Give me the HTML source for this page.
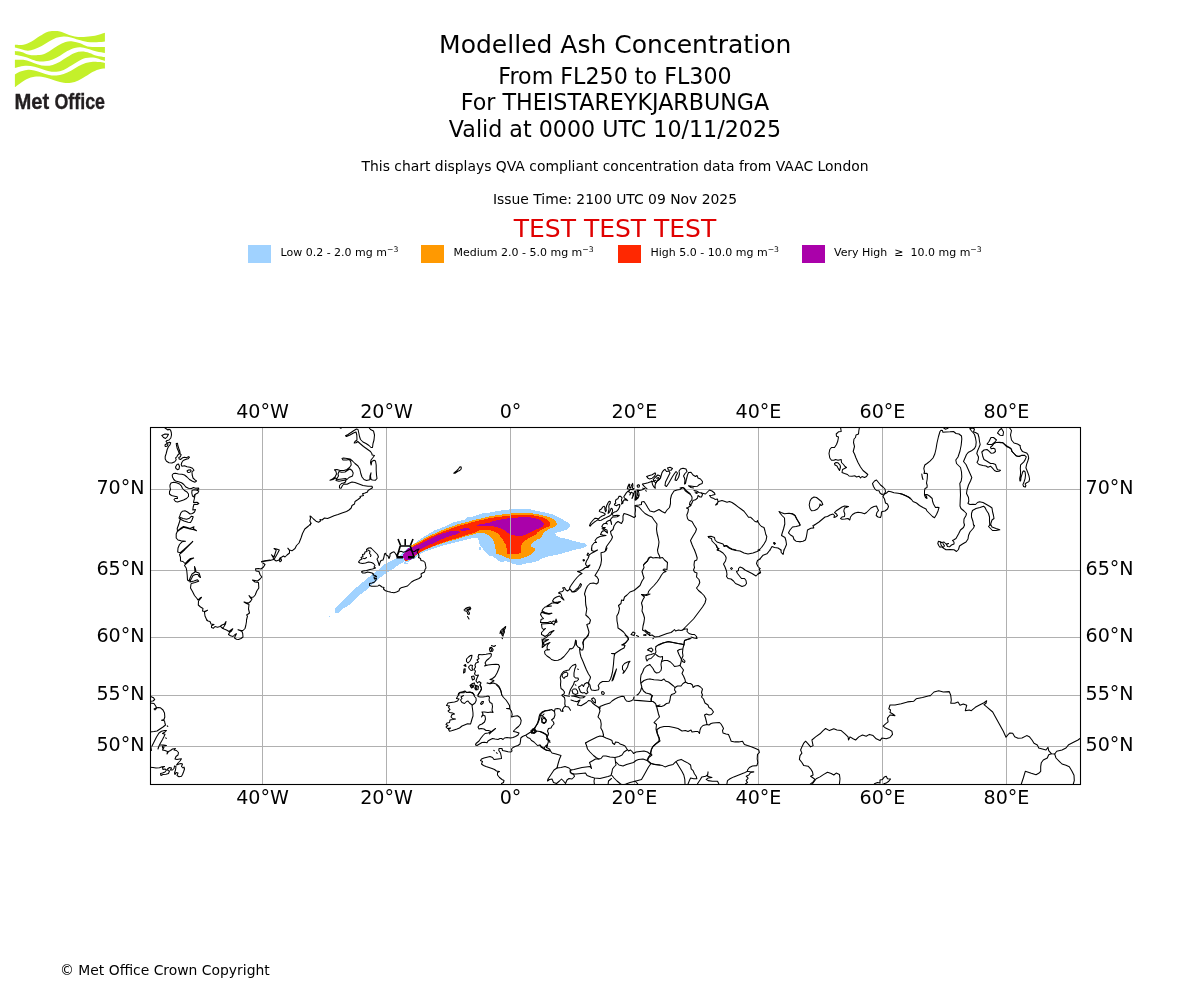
<!DOCTYPE html>
<html lang="en"><head><meta charset="utf-8"><title>Modelled Ash Concentration</title>
<style>html,body{margin:0;padding:0;background:#fff}body{width:1200px;height:1000px;overflow:hidden}svg{display:block;will-change:transform;opacity:.999}text{font-family:"DejaVu Sans","Liberation Sans",sans-serif;fill:#000}</style></head><body>
<svg width="1200" height="1000" viewBox="0 0 1200 1000">
<rect width="1200" height="1000" fill="#fff"/>
<g fill="#c4f02a" stroke="none">
<path d="M14.90 44.71C16.31 44.71 20.55 45.24 23.33 44.71C26.11 44.17 28.83 42.95 31.58 41.50C34.33 40.05 37.24 37.60 39.83 36.00C42.43 34.40 44.88 32.72 47.17 31.88C49.46 31.03 51.44 31.03 53.58 30.96C55.72 30.88 57.71 30.88 60.00 31.42C62.29 31.95 64.89 33.33 67.33 34.17C69.78 35.01 71.92 36.00 74.67 36.46C77.42 36.92 80.78 36.99 83.83 36.92C86.89 36.84 90.25 36.46 93.00 36.00C95.75 35.54 98.35 34.70 100.33 34.17C102.32 33.63 104.15 33.02 104.92 32.79L104.92 41.50C103.54 41.62 99.57 42.16 96.67 42.23C93.76 42.31 90.56 42.39 87.50 41.96C84.44 41.53 81.08 40.43 78.33 39.67C75.58 38.90 73.44 37.91 71.00 37.38C68.56 36.84 66.11 36.38 63.67 36.46C61.22 36.53 58.78 36.99 56.33 37.83C53.89 38.67 51.44 40.12 49.00 41.50C46.56 42.88 44.11 44.78 41.67 46.08C39.22 47.38 36.62 48.53 34.33 49.29C32.04 50.06 30.06 50.67 27.92 50.67C25.78 50.67 23.67 49.83 21.50 49.29C19.33 48.76 16.00 47.76 14.90 47.46Z"/>
<path d="M14.90 51.12C16.00 51.28 19.18 51.43 21.50 52.04C23.82 52.65 26.39 54.26 28.83 54.79C31.28 55.33 33.72 55.33 36.17 55.25C38.61 55.17 41.06 55.17 43.50 54.33C45.94 53.49 48.39 51.66 50.83 50.21C53.28 48.76 55.72 47.00 58.17 45.62C60.61 44.25 63.06 42.65 65.50 41.96C67.94 41.27 70.39 41.27 72.83 41.50C75.28 41.73 77.72 42.49 80.17 43.33C82.61 44.17 85.06 45.93 87.50 46.54C89.94 47.15 91.93 46.92 94.83 47.00C97.74 47.08 103.24 47.00 104.92 47.00L104.92 52.96C103.54 52.73 99.26 52.19 96.67 51.58C94.07 50.97 91.78 49.98 89.33 49.29C86.89 48.60 84.44 47.69 82.00 47.46C79.56 47.23 77.11 47.31 74.67 47.92C72.22 48.53 69.78 49.83 67.33 51.12C64.89 52.42 62.44 54.33 60.00 55.71C57.56 57.08 55.11 58.46 52.67 59.38C50.22 60.29 47.78 60.90 45.33 61.21C42.89 61.51 40.44 61.59 38.00 61.21C35.56 60.83 33.11 59.68 30.67 58.92C28.22 58.15 25.96 57.31 23.33 56.62C20.71 55.94 16.31 55.10 14.90 54.79Z"/>
<path d="M14.90 59.83C16.31 59.83 20.71 59.53 23.33 59.83C25.96 60.14 28.22 60.90 30.67 61.67C33.11 62.43 35.56 63.73 38.00 64.42C40.44 65.10 42.89 65.72 45.33 65.79C47.78 65.87 50.22 65.56 52.67 64.88C55.11 64.19 57.56 62.97 60.00 61.67C62.44 60.37 64.89 58.53 67.33 57.08C69.78 55.63 72.22 53.88 74.67 52.96C77.11 52.04 79.56 51.58 82.00 51.58C84.44 51.58 86.89 52.27 89.33 52.96C91.78 53.65 94.07 55.02 96.67 55.71C99.26 56.40 103.54 56.85 104.92 57.08L104.92 60.75C104.15 60.52 102.32 59.91 100.33 59.38C98.35 58.84 95.44 57.77 93.00 57.54C90.56 57.31 88.11 57.39 85.67 58.00C83.22 58.61 80.78 59.91 78.33 61.21C75.89 62.51 73.44 64.34 71.00 65.79C68.56 67.24 66.11 68.92 63.67 69.92C61.22 70.91 58.78 71.52 56.33 71.75C53.89 71.98 51.44 71.75 49.00 71.29C46.56 70.83 44.11 69.76 41.67 69.00C39.22 68.24 36.78 67.24 34.33 66.71C31.89 66.17 29.44 65.79 27.00 65.79C24.56 65.79 21.68 66.33 19.67 66.71C17.65 67.09 15.69 67.85 14.90 68.08Z"/>
<path d="M14.90 74.50C15.69 74.04 17.65 72.51 19.67 71.75C21.68 70.99 24.56 70.15 27.00 69.92C29.44 69.69 31.89 69.92 34.33 70.38C36.78 70.83 39.22 71.90 41.67 72.67C44.11 73.43 46.56 74.50 49.00 74.96C51.44 75.42 53.89 75.57 56.33 75.42C58.78 75.26 61.22 74.81 63.67 74.04C66.11 73.28 68.56 72.13 71.00 70.83C73.44 69.53 75.89 67.55 78.33 66.25C80.78 64.95 83.22 63.81 85.67 63.04C88.11 62.28 90.56 61.82 93.00 61.67C95.44 61.51 98.35 61.90 100.33 62.12C102.32 62.35 104.15 62.89 104.92 63.04L104.92 68.54C104.15 68.62 102.32 68.47 100.33 69.00C98.35 69.53 95.44 70.53 93.00 71.75C90.56 72.97 88.11 74.88 85.67 76.33C83.22 77.78 80.78 79.39 78.33 80.46C75.89 81.53 73.44 82.37 71.00 82.75C68.56 83.13 66.11 83.06 63.67 82.75C61.22 82.44 58.78 81.60 56.33 80.92C53.89 80.23 51.44 79.31 49.00 78.62C46.56 77.94 44.11 77.10 41.67 76.79C39.22 76.49 36.78 76.41 34.33 76.79C31.89 77.17 29.44 77.94 27.00 79.08C24.56 80.23 21.68 82.29 19.67 83.67C17.65 85.04 15.69 86.72 14.90 87.33Z"/>
</g>
<g font-weight="bold" font-size="21.6" style="font-family:'Liberation Sans',sans-serif;fill:#231f20;stroke:#231f20;stroke-width:0.35px"><text x="14.4" y="108.8" textLength="34.8" lengthAdjust="spacingAndGlyphs" style="font-family:'Liberation Sans',sans-serif;fill:#231f20">Met</text><text x="54.4" y="108.8" textLength="50.6" lengthAdjust="spacingAndGlyphs" style="font-family:'Liberation Sans',sans-serif;fill:#231f20">Office</text></g>
<g text-anchor="middle">
<text x="615.2" y="53" font-size="25.03">Modelled Ash Concentration</text>
<text x="615" y="84" font-size="22.2">From FL250 to FL300</text>
<text x="615" y="110" font-size="22.2">For THEISTAREYKJARBUNGA</text>
<text x="615" y="137" font-size="22.2">Valid at 0000 UTC 10/11/2025</text>
<text x="615" y="171" font-size="13.9">This chart displays QVA compliant concentration data from VAAC London</text>
<text x="615" y="204" font-size="13.9">Issue Time: 2100 UTC 09 Nov 2025</text>
<text x="615" y="237" font-size="25" style="fill:#e00000">TEST TEST TEST</text>
</g>
<rect x="248" y="245" width="23" height="18" fill="#a0d2ff"/>
<text x="280.5" y="256" font-size="11" xml:space="preserve">Low 0.2 - 2.0 mg m<tspan font-size="7.7" dy="-4.2">−3</tspan></text>
<rect x="421" y="245" width="23" height="18" fill="#ff9900"/>
<text x="453.5" y="256" font-size="11" xml:space="preserve">Medium 2.0 - 5.0 mg m<tspan font-size="7.7" dy="-4.2">−3</tspan></text>
<rect x="618" y="245" width="23" height="18" fill="#ff2800"/>
<text x="650.5" y="256" font-size="11" xml:space="preserve">High 5.0 - 10.0 mg m<tspan font-size="7.7" dy="-4.2">−3</tspan></text>
<rect x="802" y="245" width="23" height="18" fill="#aa00aa"/>
<text x="834" y="256" font-size="11" xml:space="preserve">Very High  ≥  10.0 mg m<tspan font-size="7.7" dy="-4.2">−3</tspan></text>
<clipPath id="mapclip"><rect x="150.5" y="427.5" width="930" height="357"/></clipPath>
<g clip-path="url(#mapclip)">
<g stroke="none" shape-rendering="crispEdges">
<path fill="#a0d2ff" d="M335.0 608.5 L338.0 606.0 L341.0 602.0 L345.0 598.5 L349.0 595.0 L353.0 590.5 L357.0 587.0 L361.0 583.5 L365.0 580.5 L369.0 577.0 L373.0 574.0 L377.0 571.0 L381.0 567.5 L385.0 564.0 L389.0 562.0 L393.0 560.0 L397.0 558.0 L401.0 554.5 L405.0 550.5 L408.0 548.0 L413.1 544.4 L417.5 541.2 L423.8 536.9 L430.0 533.1 L435.0 530.0 L442.5 527.5 L448.8 524.4 L455.0 521.9 L465.0 519.4 L467.5 517.5 L475.0 516.2 L480.0 513.8 L490.0 512.5 L500.0 510.6 L510.0 509.4 L520.0 509.0 L530.0 509.4 L537.5 511.0 L545.0 512.5 L552.5 514.4 L557.5 516.9 L562.5 519.4 L566.9 521.9 L569.8 524.4 L569.8 526.9 L567.5 529.4 L562.5 531.2 L557.5 532.5 L555.0 533.5 L556.2 535.6 L560.0 537.5 L566.2 538.8 L572.5 540.6 L580.0 542.5 L586.2 543.8 L586.9 546.2 L582.5 548.1 L576.2 549.4 L570.0 551.2 L565.0 552.5 L558.8 554.4 L552.5 555.6 L546.2 556.9 L541.2 558.8 L537.5 561.2 L532.5 562.5 L527.5 563.1 L523.8 564.4 L517.5 564.8 L512.5 564.0 L508.8 561.9 L505.0 561.2 L502.5 562.5 L499.4 561.2 L496.2 558.8 L492.5 556.2 L488.8 555.6 L486.2 552.5 L483.1 550.0 L482.2 546.9 L480.0 546.2 L479.0 542.5 L478.1 538.1 L472.5 538.1 L465.0 540.0 L457.5 541.9 L450.0 543.8 L442.5 545.6 L435.0 548.1 L427.5 550.6 L420.0 553.8 L416.2 557.5 L411.2 560.0 L407.5 562.5 L403.8 561.2 L408.0 563.5 L404.0 563.5 L404.0 561.5 L401.0 563.5 L397.0 566.0 L393.0 569.0 L389.0 571.5 L385.0 574.0 L381.0 577.0 L377.0 580.0 L373.0 584.0 L369.0 587.0 L365.0 591.0 L361.0 594.0 L357.0 597.5 L353.0 601.0 L349.0 605.0 L345.0 607.5 L341.0 610.0 L338.0 613.0 L335.0 612.5Z"/>
<path fill="#a0d2ff" d="M479.2 546.9 L480.8 546.9 L480.8 549.6 L479.2 549.6Z"/>
<path fill="#a0d2ff" d="M328.5 616.0 L329.7 616.0 L329.7 617.2 L328.5 617.2Z"/>
<path fill="#ff9900" d="M404.4 560.0 L406.9 552.5 L411.2 545.6 L417.5 542.5 L423.8 538.8 L430.0 535.6 L436.2 532.8 L442.5 530.0 L450.0 527.2 L457.5 524.4 L466.2 522.2 L475.0 519.8 L482.5 518.1 L490.0 516.2 L500.0 514.8 L510.0 513.5 L520.0 512.8 L530.0 513.1 L537.5 514.0 L543.8 515.6 L550.0 517.5 L553.8 519.4 L556.2 521.9 L556.9 525.0 L555.0 526.9 L551.2 528.1 L547.5 530.0 L543.8 532.5 L542.2 535.6 L541.2 538.1 L537.5 539.4 L533.8 541.9 L531.2 543.8 L531.0 546.9 L535.6 548.1 L535.0 550.0 L532.5 552.5 L530.0 555.0 L526.2 556.9 L522.5 558.1 L518.1 559.4 L512.5 558.8 L508.8 558.5 L505.0 556.9 L501.2 555.0 L496.2 553.8 L495.6 550.0 L495.0 545.6 L493.1 540.0 L490.0 536.2 L486.2 533.8 L481.2 532.8 L476.2 533.5 L471.2 535.0 L463.8 536.9 L456.2 539.4 L448.8 541.2 L441.2 543.8 L433.8 546.2 L426.2 549.4 L420.0 552.5 L415.0 556.2 L411.2 558.8 L406.9 561.2Z"/>
<path fill="#ff2800" d="M403.8 558.8 L406.9 551.9 L411.9 546.9 L417.5 543.8 L423.8 540.2 L430.0 537.1 L436.2 534.4 L442.5 531.9 L450.0 529.0 L457.5 526.2 L466.2 524.0 L475.0 521.5 L482.5 519.8 L490.0 518.1 L498.8 516.9 L510.0 515.6 L520.0 514.8 L530.0 515.0 L537.5 516.0 L543.1 517.5 L547.5 519.8 L550.0 522.5 L550.6 525.0 L548.8 526.5 L545.0 528.1 L541.2 530.0 L537.5 532.5 L535.0 535.0 L531.2 536.9 L527.5 538.8 L525.0 540.6 L522.5 543.1 L521.0 546.2 L520.6 550.0 L521.0 553.1 L517.5 553.8 L512.5 553.5 L507.5 553.5 L506.9 550.0 L506.2 545.6 L503.8 541.2 L501.2 537.5 L498.1 533.8 L493.8 531.2 L488.8 529.8 L483.8 529.8 L478.8 530.6 L475.0 532.5 L467.5 534.8 L460.0 537.2 L452.5 539.4 L445.0 541.9 L437.5 544.4 L430.0 547.5 L422.5 550.6 L417.5 553.8 L412.5 557.5 L408.8 560.2 L405.6 560.9Z"/>
<path fill="#aa00aa" d="M403.1 555.0 L405.0 551.9 L408.8 548.1 L412.5 546.9 L417.5 545.0 L423.8 541.9 L430.0 538.8 L436.2 536.0 L442.5 533.5 L447.5 531.9 L453.8 530.6 L458.8 530.6 L460.0 532.5 L456.2 534.4 L451.2 535.6 L446.2 537.5 L440.0 540.0 L433.8 543.1 L427.5 545.6 L421.2 548.8 L417.5 552.5 L413.8 556.9 L410.0 560.0 L405.6 560.6 L403.1 558.1Z"/>
<path fill="#aa00aa" d="M460.0 529.4 L463.8 528.1 L468.8 528.1 L470.0 529.4 L466.2 530.6 L461.2 530.9Z"/>
<path fill="#aa00aa" d="M476.2 525.0 L482.5 523.8 L488.8 523.1 L492.5 521.2 L498.8 519.8 L505.0 518.8 L510.0 518.1 L517.5 517.5 L525.0 516.9 L531.2 517.5 L537.5 518.8 L541.9 521.2 L543.8 523.8 L543.1 526.2 L540.0 528.1 L536.2 529.4 L532.5 531.2 L528.8 533.1 L525.0 535.0 L521.2 536.2 L517.5 536.2 L513.8 535.2 L510.0 534.4 L507.5 532.5 L505.0 530.6 L501.2 528.5 L496.2 526.9 L491.2 526.0 L485.0 526.0 L480.0 526.0 L476.9 525.6Z"/>
</g>
<g stroke="#b0b0b0" stroke-width="1" fill="none">
<path d="M262.5 427.5V784.5"/>
<path d="M386.5 427.5V784.5"/>
<path d="M510.5 427.5V784.5"/>
<path d="M634.5 427.5V784.5"/>
<path d="M758.5 427.5V784.5"/>
<path d="M882.5 427.5V784.5"/>
<path d="M1006.5 427.5V784.5"/>
<path d="M150.5 746.5H1080.5"/>
<path d="M150.5 695.5H1080.5"/>
<path d="M150.5 637.5H1080.5"/>
<path d="M150.5 570.5H1080.5"/>
<path d="M150.5 489.5H1080.5"/>
</g>
<g stroke="#000" stroke-width="1.06" fill="none" stroke-linejoin="round" stroke-linecap="round">
<path d="M165 428 L166.5 429 L168 430 L169 429.2 L170.5 430 L171.3 432.5 L171.5 435 L170.8 438 L169 440 L166.5 440.8 L166 441.5 L167.5 443.2 L169.5 442.2 L170.7 442.8 L170 444.8 L168.5 446.5 L167.2 449.5 L166.2 453.5 L165.2 456.5 L165.2 459 L166.5 461.2 L169 462.7 L172 463 L174.8 461.8 L176.2 459.8 L175.6 457.8 L176.8 456.8 L177.8 455 L179.2 453.8 L178.5 451.2 L177.2 448.5 L176.5 445.5 L176.2 443.5 L177.5 443.3 L177.8 445.5 L178.8 448.5 L179.8 451.2 L180.2 454 L181.2 454.6 L180.3 456.8 L178.8 457.5 L179.2 459 L180.5 459.5 L182.5 457.8 L184.5 457.2 L186.5 457.7 L188.5 456.6 L189.5 457.2 L188 458.8 L185.5 459.5 L183.2 460.5 L181.8 462.5 L181.2 464.8 L182 466.2 L184.5 465.8 L187 466.8 L190 467.2 L192.5 468.2 L194 470.2 L193 471 L192 472 L192.2 475 L193 478 L195 479.8 L196.5 481 L195 482.2 L192.5 481.2 L189.5 479.5 L187 477 L184.5 475 L182 474.2 L178.5 474 L175.5 473.3 L173.5 473.5 L172.2 475 L172.5 477 L173.8 479.5 L175.5 481 L178.5 481.8 L181.5 482.8 L183.8 484.5 L185.8 487 L188.5 488.2 L191.5 488.5 L193.5 487.5 L195.5 488.2 L198.5 488 L198.8 489 L197 490"/>
<path d="M161.8 435.5 L165 434 L168.5 434.2 L167 437 L165.5 438.5 L163.5 437.5Z"/>
<path d="M165 445 L167 443.5 L168 444.5 L167 446.2 L165.2 446.5Z"/>
<path d="M175.5 467 L177 464.5 L178.5 464 L179.5 466.5 L179 469 L177.5 469.7 L176 468.5Z"/>
<path d="M187 471 L188.5 470 L190.5 469.8 L191.2 471 L190 472.2 L188 472.5Z"/>
<path d="M170 485 L171 483 L173.5 482.2 L176.5 482.8 L179.5 484 L181.5 486.2 L182.5 488.5 L184.5 490.5 L187 492 L188.5 494 L188.5 496.5 L186.5 498.5 L183.5 500 L180.5 501 L177.5 502 L175.5 501.5 L174 499.5 L175 498.5 L177.5 498.5 L177.2 496.8 L174.5 496.2 L171.5 495.5 L169.5 494 L169.5 491.5 L170.5 489.5 L170 487Z"/>
<path d="M192 490.5 L194 489.8 L196.5 490 L198.8 491 L197.8 493 L195.8 494 L194.5 495 L194 497 L192.5 496 L191.8 493Z"/>
<path d="M195 495 L194.5 498 L193.8 501 L193.5 502.5 L197 502.2 L198.8 503.5 L197 504.5 L194 504.2 L193.2 507 L192.8 510 L195.5 509.5 L194.5 512 L192.5 513.5 L190 514 L187.5 512 L185 510.8 L182.5 511.2 L180.8 513 L179.8 516 L179 518 L181 519.5 L184 521 L188 522.2 L190.5 522.5 L192 520 L193.2 516.8 L191.5 516.2 L189.5 518.2 L186.5 519.2 L183 518.5 L180.5 517.5 L179.8 521 L178.5 525"/>
<path d="M178.5 525 L177.2 528.5 L177.5 531 L176.2 534 L176.2 538 L178 540 L181 540.8 L185.5 541.2 L182 541.8 L179.5 544.5 L178 548 L177.7 552 L180 552.8 L184 549.5 L188 545.8 L192.8 541.3 L192 542.5 L188 546.5 L184.5 550 L180.5 553.5 L179.5 554.5 L180.5 557.5 L180.5 561 L183 561.5 L185 563.5 L187.5 561 L190.5 558.5 L193.7 558 L191 559.2 L188 562 L185.2 564.5 L184.5 565.5 L186.2 568 L186.8 571 L187.2 575 L187.5 580 L189 581 L190.5 577 L192 574 L195 572 L194.5 566.5 L195.5 569 L196 572 L199 573 L200.5 577.5 L199 576.5 L198 574.5 L195.5 574.5 L193 575.5 L191.5 578.5 L190 581.2 L190 582 L194 581 L197.5 579.8 L198.7 581.2 L195 582.5 L191.5 583.5 L191 584 L190.5 588 L192.5 591.5 L194.5 595.5 L197 598.5 L198 600 L200 598 L201.5 597.3 L199 600.5 L198.5 601 L198.3 605 L200.5 607 L203 608.5 L202.5 611 L204.5 611.5 L207.5 610.3 L204.5 612 L204.5 612.5 L205 616 L206.8 620"/>
<path d="M177.5 531 L180 528.8 L183.5 526.5 L186.5 527.2 L190 528.5 L194 526.8 L193.2 528.5 L196.5 530.8 L194 529.8 L190 529 L186.5 528 L183.5 527.2 L180.5 529.2 L178 531.2"/>
<path d="M270 560 L265 560.8 L261.5 561.5"/>
<path d="M263 563 L265 564.5 L263.5 567 L261 569 L258.5 568.5 L255.5 568.8 L256 571 L259 571.5 L260 574.5 L261.8 577 L260 579 L257.5 581 L255 580.5 L252.5 580 L255 582 L258.5 582.5 L258.8 588 L256.8 591 L255.2 595 L253.5 597 L251 597.5 L249 595.5 L250.5 598 L252 599 L250.5 601.5 L248.5 603 L246 602.5 L244 602 L246.5 603.5 L249 604.5 L248.5 609 L249.5 613 L247.5 614.5 L246.5 615 L247.5 616 L246.5 620"/>
<path d="M206.8 620 L208 621 L210 621.5 L211 624 L214 624.5 L211.5 625.8 L211.5 627.5 L213.5 628.2 L215 626.5 L217.5 627.2 L220 626.5 L222 625 L224.5 624 L226 621.5 L225.5 624 L224 626.5 L222.5 628.5 L221 627 L224 629 L226.5 630 L229 631.5 L231 630 L232.8 628.7 L231.5 631 L229.5 632.5 L228.5 634.5 L230.5 635.8 L233 636.5 L235 634.5 L236.5 633.8 L235 636.5 L234.5 638 L236.5 639.2 L238.5 639.5 L241 638.5 L243 637 L242.7 633.5 L242 631.5 L240 630.5 L238 629.7 L241 630.5 L243 630.5 L245 628.5 L245.8 625.5 L246.5 621.5 L246.5 620"/>
<path d="M150 696.2 L153.5 697.8 L154.7 699.5 L153 701 L150 701.2"/>
<path d="M150 703 L154 703.5 L156 706.5 L156.5 708.5 L155 710 L154 709 L155.5 708.2 L158 707.5 L160.5 707.8 L163 710 L164.5 713 L164.8 717 L164 719.5 L161.5 720.2 L164.5 720.8 L165 723.5 L165.5 725 L163 727 L160 729 L157 731 L154 731.5 L150 732"/>
<path d="M152 746 L154 742 L156.5 737 L159 733 L161.5 731.2 L164.5 730.5 L166.5 730.5 L165 732 L162.5 733.5 L165 734.2 L164 736.5 L162.5 739.5 L160.5 743 L159 746 L158 749 L158.5 747.2"/>
<path d="M160.5 745 L163.5 745 L166.5 745.5 L162.5 746.2 L162.5 748 L164 747.5 L162.5 750 L165 750.5 L167.5 751.5 L167 754 L168.5 751.5 L170.5 750.5 L172.5 749 L175.5 748.5 L174 750 L176.5 750.5 L178.5 752.5 L178 755 L176 756.5 L175 759 L177 759.5 L179.5 759 L181.5 758.8 L180 761 L178 763 L176.5 765 L179 764 L181 763.5 L182.5 764 L181.5 766.5 L183 768 L184 767 L184.5 769 L183.5 772 L182.5 774.5 L181.5 776.2 L179 776.8 L177 775.5 L178 773 L176.2 772.5 L175 774.5 L174.5 773 L175.5 770 L176 766.5 L174.5 766 L174 768.5 L172.5 770 L170.5 770 L171.5 768 L169.5 767.5 L167.5 769 L168 770.5 L169.5 771 L168.5 773.5 L166 774.2 L163 774.5 L161 775.5 L160.5 773.5 L162.5 773 L165 772 L166.5 770 L165 769 L163 769.5 L162.5 767.5 L164.5 766.5 L162 766.8 L159.5 767.8 L156 768 L153 767.5 L150 767.2"/>
<path d="M167.2 725.8 L167.8 726.4"/>
<path d="M165.7 737.8 L166.3 738.4"/>
<path d="M150.8 746.2 L151.4 750.5"/>
<path d="M368.5 427 L370.5 429.5 L373.5 431 L374.5 435 L374 440 L373 443.5 L372.5 447.5 L371 447.5 L369 445.5 L366 443.5 L363 442 L360.5 439.5 L359.5 436.5 L358.8 433 L358 429.5 L356.5 429 L354 430.5 L351 432.5 L348 434.5 L345.5 435.8 L346.5 436.5 L350 435 L353.5 433 L356 432 L356.8 435 L357 440 L355 441.5 L354.2 443 L356 442.8 L357.8 441.5 L360 443.5 L363.5 446.5 L367 449 L370.5 451.5 L371.8 453.5 L372.2 455 L374.5 455.5 L373 457.5 L371 460 L370.5 462.5 L371.2 465 L371.8 461.5 L374 460.2 L375.5 461 L376.2 465 L376.2 470 L376.5 475 L377 478.5 L375.5 480.2 L372.5 480 L371 479.5 L370.5 476 L371 472.8 L370 476 L369.8 479.8 L366.5 480.5 L364 479.5 L362 477 L360.8 473.5 L359.8 469 L358 466 L355 463.5 L352.5 461 L350 459 L347 458.5 L343.5 458 L342 458.5 L343 460 L346.5 460 L349.5 459.5 L350.8 462 L351.2 465 L349.5 467.5 L347 469.5 L344 470.5 L340 470.5 L337 469.5 L334.5 469.8 L336 471.5 L336.5 474 L335 477 L332.5 479 L330 480.2 L333 479.5 L335.5 478 L338 479.5 L342 479 L345.5 478.5 L347 479.5 L349 477.5 L352.5 476 L353.2 473 L352 470.5 L350 469 L348 470 L345 472 L341.5 472.2 L339 471.5 L338 474 L338.5 476 L336.5 479 L336 480.5 L339 481.2 L343 480.5 L346 480 L345.5 482 L343.5 483 L341.5 483.5 L339.5 485.5 L339.5 488 L341 488.2 L342.5 485.5 L344 484 L347 484.2 L349.5 483 L352 482 L355 482.5 L359 484 L363 485.5 L368 486.2 L372 486.2 L372.5 487.8 L370.5 489 L368 490.5 L367.5 492 L365 493 L362.5 493.8 L363.5 495.5 L360 496.5 L360.5 497.5 L358 499.5 L355 501.5 L354.5 504 L352 505.5 L351.2 508 L349 510 L346.5 511.5 L342 513 L338 514.5 L334 515.8 L330 517.5 L327.5 518.5 L324.5 518 L322 520 L320 519.5 L320.5 521 L318.5 522.2 L316 521.2 L313.5 519 L311.5 517 L310 516 L310.5 518.5 L309.8 521 L311 523 L310 525"/>
<path d="M340 427.8 L341 428.4"/>
<path d="M310 525 L311 523.5 L308.5 526 L304.8 529 L302.5 533.5 L301 538 L299 543 L296.5 545.5 L295 548.5 L292 550.8 L289.5 550 L287.8 548.2 L289.5 550.5 L289.5 553 L287 555 L285 557 L283.5 556 L281.8 557 L280 558 L279 560 L280 561.8 L281.5 560.5 L281 558.5 L279 560 L276.2 561 L274 559.5 L275.5 557 L277.5 553.5 L279.3 550 L276.5 549 L274 548.5 L276.2 550.2 L275 554 L274 557 L271.5 554.8 L273.2 557.5 L273.5 559.5 L270 560.5 L266 561 L263 561.5 L261.5 562"/>
<path d="M358.5 562 L360 560 L362 559 L361 557.5 L363 556.5 L362.5 554.5 L364.5 554 L365 552 L367 551.5 L366.5 549.5 L368.5 548 L370.5 547.8 L371.5 548.5 L373.5 550.5 L375.5 552.5 L377.5 554.5 L378.5 557 L377 559 L378 561.5 L379.3 565.5 L380 562.5 L381 560.5 L383 560 L384 557 L384.5 554 L385.5 553.3 L386.2 555 L388 556 L389 558.5 L390 556 L390 554 L392 552.5 L394 551.8 L395.5 553.5 L396.5 555.5 L397.5 554 L399 552 L401 551.2 L403.5 552.2 L406 551.5 L408 550.5 L410 549.5 L412.5 551.2 L414.5 551.5 L416.5 550 L419 549 L417 552 L418.5 554 L419 556 L418.5 557.5 L420.5 558.5 L421 560.5 L423.5 561 L425 562.5 L425.5 565 L426 568 L425 569.5 L424.5 572 L422.5 573 L421 574 L421.5 576.5 L419 578.5 L416.5 579.5 L414 580.5 L411.5 582 L409.5 584 L407.5 586 L404 587 L401 587.8 L399.5 589 L399 590.8 L396.5 592 L394 592.8 L391 592.2 L388 591.5 L385.5 590.8 L383.5 589 L384 587.5 L382 587 L380 585.5 L379 585 L378 586 L375 586.2 L371.5 586.2 L369.5 585.5 L369.5 583.5 L372 583 L374.5 582 L376 580 L376.5 578 L374.5 579 L374 577 L376.5 576.5 L375 575.5 L373 575 L373.5 574 L372 573 L370 572.5 L367.5 572 L365 573 L362.5 573 L361.5 571.8 L363 571 L366.5 570.5 L370 569.5 L372.5 569 L375.5 568 L374 567 L375 565.5 L373.5 563.5 L371.5 562.5 L368.5 562 L365.5 563 L362.5 563.5 L360 563Z"/>
<path d="M368 550 L370 551.2 L369.5 553.5 L371 555 L370.5 556.5"/>
<path d="M363 558.2 L365 558.7 L366.5 557.5"/>
<path d="M591.5 550 L592 545.5 L594.5 542.5 L596.5 542.5 L595 540.5 L597 538 L600 536.5 L603 536 L606 535.5 L603 535 L600.5 534.5 L602 531.5 L604.5 530.5 L607.5 533 L607 530 L604 529 L602.5 527"/>
<path d="M601.8 526.8 L602.5 525.1 L603.9 523.7 L606 523.3 L607.4 524 L606 522.6 L607.4 521.2 L609.5 520.2 L611.2 521.6 L611.6 524.4 L610.9 521.6 L610.5 519.5 L611.6 518.1 L613 516.7 L614.7 517 L617.2 516.7 L619.3 515.6 L617.2 515.3 L615.1 515.6 L613 515.3 L611.9 514.2 L612.6 513.2 L614.4 512.1 L616.5 511.4 L618.2 509.7 L619.3 507.6 L619.9 505.5 L619.6 504.4 L617.9 504.8 L616.5 505.8 L614.7 505.1 L614.4 504.1 L615.8 503 L615.4 501.3 L616.1 499.5 L617.9 498.8 L618.9 496.4 L620.7 496.4 L622.1 497.8 L621.4 499.9 L622.1 502 L621.4 504.1 L622.8 503.4 L623.1 501.3 L624.2 499.9 L625.9 499.9 L627.7 500.6 L626.3 499.2 L624.5 498.1 L623.8 496.7 L625.2 494.6 L626.3 492.9 L628 491.1 L629.8 490.1 L628.4 491.5 L630.5 492.9 L629.8 495 L630.8 492.9 L631.5 492.2 L633.3 493.6 L632.6 496.4 L632 498.5 L633.6 495 L634.3 491.8 L635.4 490.8 L635.7 493.6 L635.4 497.1 L635 499.9 L636.4 497.8 L637.1 495 L637.1 491.1 L637.5 494.3 L638.9 496.4 L637.1 498.1 L635.7 500.2 L638.2 497.8 L639.2 495 L638.5 491.5 L636.8 490.1 L639.6 490.4 L641.7 490.1 L643.8 489 L645.5 487.6 L646.9 488.7 L645.5 487.6 L643.8 485.9 L642.4 484.1 L645.2 483.4 L648 482.7 L650.8 481.7 L651.8 481 L652.5 484.5 L653.9 486.9 L655.3 488.3 L655 485.9 L655.7 483.1 L657.1 481 L659.2 479.6 L660.6 477.5 L661.3 475 L662 472.6 L663.4 470.5 L665 469.4"/>
<path d="M627.3 488.7 L628 486.2 L629.1 484.1 L629.8 484.5 L629.1 486.9 L630.5 488 L631.5 485.5 L632.6 483.4 L632.9 485.9 L632.2 488 L634 488.7 L633.3 489.7 L630.5 489.4Z"/>
<path d="M637.1 485.9 L638.2 484.6 L639.5 485.3 L639.2 486.9 L637.8 487.3Z"/>
<path d="M646.6 476.4 L649.4 475.4 L652.2 474.7 L655 472.9 L655.7 474 L654.3 476.4 L652.2 478.2 L649.4 478.9 L648 478.2Z"/>
<path d="M655 477.5 L657.8 475 L660.2 476.1 L660.6 477.5 L659.2 479.6 L657.1 481 L655.7 483.1 L653.9 481 L653.2 479.6Z"/>
<path d="M656.4 478.2 L658.5 477.5 L657.8 480.3"/>
<path d="M652.2 481.7 L653.9 481 L655.7 480.3"/>
<path d="M642.8 488.1 L643.4 488.6"/>
<path d="M645.6 490.5 L646.3 491.2"/>
<path d="M589.5 525.8 L590.6 523 L592.7 520.5 L594.8 518.4 L596.5 518.4 L598.6 518.8 L600 517.4 L602.1 516 L604.2 515.3 L605.3 514.2 L604.2 513.2 L602.5 512.5 L600.7 512.1 L599.3 511.4 L599.7 510 L601.4 509 L602.8 506.9 L604.2 506.2 L604.9 507.6 L604.9 509.7 L605.6 511.8 L606.3 510.4 L606 508.3 L606.7 505.5 L608.1 502.7 L609.1 501.3 L610.3 501.6 L610.2 503.4 L609.1 504.8 L608.8 506.9 L609.1 509 L608.4 511.8 L608.1 513.5 L609.5 512.1 L610.5 510 L611.2 508.3 L612.3 509 L612.6 511.1 L611.9 512.8 L611.2 514.6 L609.5 516 L607.4 517 L605.3 518.1 L603.2 519.1 L601.1 520.2 L599.3 520.5 L597.9 519.8 L596.2 520.9 L594.1 522.3 L592 524 L590.2 526.1Z"/>
<path d="M602.1 528.6 L603.2 527.5 L605.3 527.5 L603.9 528.9 L602.8 530"/>
<path d="M665 469.5 L666.5 471.5 L669 471 L670 473 L668.5 476 L667 479 L665.5 482 L665 485.5 L666.5 486.5 L668.5 483.5 L670.5 480 L672.5 476.5 L674.5 473.5 L676 471.5 L677.5 473 L676 476 L675 480 L676.5 480.5 L678.5 477.5 L679.5 474 L679 471 L680.5 469 L683 468.2 L686 469 L687 471.5 L685 473.5 L683.5 476 L684.5 478"/>
<path d="M667.5 468 L670 467.2 L672.5 468.5 L671 470.3 L668.5 470Z"/>
<path d="M605.5 550 L606.5 546.5 L609 543 L611.5 539.5 L612.5 537 L611 534 L610.5 531.5 L613 529.5 L614 526 L616 523 L618 521.5 L621.5 523.5 L623 520.5 L623 516 L624 513.5 L627.5 514.5 L631 516 L634 517.5 L635.5 516.5 L635 514 L635.5 510 L635 505.5 L639 505 L641.5 504.5 L641.5 502 L644 501.5 L646 504.5 L648 508 L650 511 L654 512 L657 510.5 L659 509.5 L662 511.5 L665 513 L667 510 L669.5 507.5 L670.5 503.5 L670.5 499 L671.5 495 L674 491 L677 490 L680 489.5 L682.5 487.5 L684.5 488.5 L686 490.5 L688.5 492.5 L690 493.5"/>
<path d="M635.5 506 L639 507 L642 510.5 L645 513.5 L648.5 515.5 L652 517 L654 520 L657 524 L656.5 529 L657 533 L658 537 L659 542 L658.5 546 L657.5 550"/>
<path d="M684.5 478 L685 480 L684.5 484 L685.5 483.5 L686.5 479 L687.5 475 L688.5 472.5 L691 472.2 L693 475 L695.5 476.5 L697 475.5 L698 478 L700.5 479 L702.5 481.5 L702.2 483.5 L699.5 484.5 L697.5 486.2 L694 486.5 L690.5 486 L688.5 485.8 L691 487.5 L693.5 488"/>
<path d="M680 488 L682.5 487.5 L684.5 488.5 L685 490.5 L687.5 492.5 L690.5 494.5 L692 497 L692 499.5 L690 502 L689.5 504.5 L691 505.5 L688 507.5 L686.5 508 L688.5 509 L688 512 L686.8 515 L687.5 518.5 L688.5 520 L692 521.5 L694 525 L696.5 529 L695.5 532 L693 536 L690.5 540.5 L692 544.5 L693.5 548 L694.5 550"/>
<path d="M694 490.5 L696.5 491 L699 492.5 L701.5 493 L702.5 494.5 L701.5 497 L700 497 L698 495.5 L697.5 498 L695.5 499.8 L693 500.5 L691.5 504 L690 505"/>
<path d="M695 492 L697.5 493 L696 493.5"/>
<path d="M701.5 493 L705.5 494 L707.5 492 L709.5 490 L712 491 L714.5 493 L715 494.5 L712 495.2 L709.5 495.5 L711 497.5 L714 498.5 L715 499.5 L717.5 499 L718 502 L717 504.5 L715.5 505 L718.5 501.5 L722 500.5 L725 501.5 L727 502.2 L729.5 501.5 L732 502.5 L735 504.5 L738 506.8 L741 509 L744 511.2 L746.5 514.5 L748.5 517.2 L750.5 517.2 L752.5 519 L755 521.5 L757 522 L757.5 520.5 L758 522 L760 525 L761.5 526.5 L764 527.5 L765 531 L765.8 534.5 L766.8 536.5 L766 540.5 L764 544 L761.5 547.5 L759.5 549.5 L758 550"/>
<path d="M708 536.5 L711 536.2 L714.5 537.5 L715 540 L717 542 L720 543 L723 544 L724.5 546.5 L726.5 545.5 L729 547.5 L732 549 L736 550"/>
<path d="M708.5 537.5 L711.5 538.5 L712 541 L714.5 543.5 L716.5 545.5 L717 547.5 L718.5 549 L717.5 550"/>
<path d="M779 511.5 L781 512.5 L784.5 513.8 L789 513.2 L792.5 513.8 L795 515.5 L796.5 518.5 L798.5 522 L800 524.5"/>
<path d="M779.5 512.5 L782 515.5 L784.5 518 L784.8 524 L783.5 529 L782.2 533 L781.5 535.5 L785 537.5 L786 541 L786.5 544.5 L785 548 L784 550"/>
<path d="M800 525.5 L796 526.5 L792.5 527 L790 530 L788.5 532.8 L790.5 535 L793 536.5 L794 539.5 L796 541.2 L800 541.8"/>
<path d="M773.5 543 L774.5 542.5 L775.5 543.5 L774.5 544.5Z"/>
<path d="M770 550 L772 546.5 L774.5 547.5 L778 548 L781 550"/>
<path d="M840.5 427 L841.2 431.5 L838.5 431.8 L836.2 434 L836.5 436.2 L838.5 437 L837.8 441 L836.5 444.5 L834.5 447.5 L831.5 447.5 L829.8 449.5 L829 453.5 L829.8 458 L831.5 460.2 L834 460.2 L835.5 459.5 L838 460.2 L841.2 459.5 L841.5 462.5 L843.5 464.5 L845 466.5 L846.5 467.5 L844.5 468.5 L842.5 469.5 L842 472.5 L844.5 473.5 L847.5 474.5 L849 476 L852 476.2 L855 475.8 L856.5 477 L859 476.2 L860.5 478 L862 476.5 L864.5 477.5 L866.5 476.5 L867.8 474.5 L865.5 472.5 L863 470.5 L860.5 467 L858 462.5 L856 458 L854.5 454 L853.2 451.5 L854.5 446.5 L853.5 442.5 L854 439 L855.5 437.5 L856 435 L858.5 434 L858.8 431 L859.5 427"/>
<path d="M834.5 463.5 L836 462.5 L838 462.8 L840 465 L840.5 467 L839.5 470.5 L838 468 L837 466 L835 465Z"/>
<path d="M872.5 483.5 L874.5 481 L876.5 480 L878.5 482.5 L880.5 485 L883 487 L885 489 L885.5 492 L884 494 L882 494.5 L880 493 L879 490.8 L876.5 490.5 L875 489 L873.5 486.5Z"/>
<path d="M910 498 L906 495.8 L902 494 L898 493.2 L894 492.8 L891 491.8 L888.5 491.2 L886.5 493 L884.5 494 L883 496.5 L884.5 499 L885.5 503 L887.5 504 L888.5 506.5 L887.5 509 L885 511 L882.5 511.5 L881.5 512 L881.2 515.5 L880.5 517.5 L878 517 L876.2 515.5 L876.8 512.8 L878.5 510.5 L877.5 508.5 L876.5 506 L874 506.5 L871 508 L869 510 L866.5 512.5 L864.5 513.8 L861.5 512.8 L858 512.2 L855 513 L852.5 514.5 L850.5 517 L849.8 520 L848 518.5 L845 519 L842 519.2 L840.5 518.5 L842 517 L844.5 516.5 L844.8 514 L843.8 511 L844.5 508 L846 507.5 L848.5 506.5 L844.5 506 L842 507 L839 509 L836 511 L834.5 512.5 L836.5 514 L837.5 515.5 L835.5 517 L834 517.5 L834.5 515.5 L833 514 L830 515 L827.5 516.5 L825 517 L822 519.5 L819 522 L816 524 L814.5 525"/>
<path d="M810 501 L811.5 498.5 L814 497 L816.5 497.5 L819 499.5 L821.5 501.5 L822.8 504.5 L821 505.5 L820 504 L819.5 506.5 L817.5 509 L814.5 510.5 L811.5 510.8 L810 508.5 L809.2 505Z"/>
<path d="M790 513.5 L792.5 514 L795 515.5 L797 519.5 L799 522.5 L800 525"/>
<path d="M900 493.5 L904 495 L908.5 497 L911.5 499.5 L913 501.5 L916.5 503 L919.5 505.5 L923 507.5 L926 509 L927 511 L930 514 L932.5 516.5 L934.5 517.8 L936.5 514.5 L938 511 L939 507.5 L937.5 507.2 L935.5 507.5 L933.5 504 L932.5 501 L932.2 498.5 L929.5 496 L927 494.5 L925.5 494.5 L926.5 496.5 L927 498.5 L925.5 497.5 L924.5 495 L924.5 491 L925 488.5 L927 487.5 L927.2 485.5 L926.5 483 L927.2 479 L927.5 474 L926.2 473.2 L924 473.5 L924.5 471.5 L923.8 468.5 L924.8 465 L927 463.5 L930 461.2 L933 458 L934.8 454 L936 449 L937 443 L938.5 436.5 L940 431.5 L941 430.2 L942.5 430.5 L942.8 432.2 L946 432 L950 431.8 L953.5 431.5 L956 433.5 L959 434 L961.5 436 L961.8 439 L961.2 445 L960 451 L958 457 L955.8 460 L956.5 463.5 L959 466 L960.5 467.5 L961.5 472 L961.8 477 L961.2 481 L959.8 483.5 L960.2 488 L960.5 495 L960.2 501 L960 506 L961 508.5 L964 511 L966.5 513.5 L966 515.5 L964 519 L963.8 522.5 L964.5 525"/>
<path d="M921.8 474 L922.2 477 L923 479.5"/>
<path d="M943.5 427.8 L945.5 429.2 L948 428.2"/>
<path d="M970 428.8 L971.5 431 L973 432.5 L974.5 434.5 L975.5 438 L976.2 442 L975.8 446 L974.5 448.5 L971.5 450.8 L968.5 452.2 L966.5 454.5 L965 458 L963.5 461.5 L966 464.5 L968 469 L970 473.5 L971.8 477.5 L970.5 481 L968.5 485 L967 490 L966.5 493.5 L968.5 497.5 L968.8 501 L968 503.5 L970 504.5 L973 504.2 L975.5 504.5 L977.5 502.5 L979.5 501.8 L983 502.5 L986.5 504.5 L990 506.5 L992 508 L992.5 511.5 L993.5 515.5 L994 518.5 L992 520 L991 523 L990.5 525"/>
<path d="M973.5 525 L973 521.5 L971.5 517 L971.5 513.5 L972.5 510.5 L976 508.5 L980 507.5 L983.5 506.2 L985 507.5 L986.5 510.5 L988.5 513.5 L989.5 517 L989.5 521 L989.8 525"/>
<path d="M970 428.8 L972.5 428 L974.5 429 L973.5 432 L975.5 432.5 L978 434 L979 437.5 L979.5 441.5 L980.2 444.5 L979 447.5 L977.5 451 L976.8 453.5 L978.5 457 L978.2 460 L977 462.5 L979 464.5 L983 465.5 L986 466 L988 467.2 L990.5 466.2 L992.5 468.2 L994.5 470.5 L996.5 471.5 L999 471.2 L1000.5 470.2 L997.5 469.8 L996.5 467.5 L995.5 464.5 L993 463.5 L990.5 463.5 L987 461.2 L984 459.5 L982.8 456.5 L982.2 453.5 L981.8 452 L984 450 L987 449.5 L989 451.2 L991 453.2 L993.5 453 L995.5 451.5 L995 449 L993.5 448.2 L991.2 448.8 L990.5 447.2 L992.5 445.5 L994 443.5 L996 442.5 L999.5 442.2 L1003 442.8 L1005.5 445 L1007.5 446.5 L1010 447.8 L1011.5 449.5 L1012 451.5 L1014.5 454 L1016.5 456 L1020 456.5"/>
<path d="M987 444 L989 441.5 L991 437.5 L993.5 437.5 L996.5 440 L994.5 442.5 L992 444.5 L988.5 444.5Z"/>
<path d="M997.5 433 L999.5 430 L1001.5 428.5 L1003.5 432 L1003 435.5 L1000 435.2Z"/>
<path d="M1009.5 427.8 L1011.5 430.5 L1010.5 435 L1011.5 440 L1014 443 L1017.5 444 L1020 445.5"/>
<path d="M1020 445.5 L1020.6 448.6 L1022.5 451.6 L1024.4 452.2 L1026.6 452.9 L1028.1 455 L1028.7 458 L1027.8 461 L1026.6 464.4 L1025.9 467.8 L1027.4 471.5 L1028.9 475.6 L1029.6 479 L1028.9 481.6 L1026.6 482.8 L1025.1 483.9 L1025.9 485.8 L1025.1 487.1 L1023.6 486.5 L1022.9 484.6 L1024 482 L1025.1 478.6 L1025.5 475.3 L1025.1 471.9 L1024 470.8 L1022.9 471.5 L1022.1 473.8 L1021 477.5 L1020.6 480.9 L1019.9 480.9 L1019.7 478.3 L1020.4 475.3 L1020.6 472.3 L1020.3 468.5 L1020.6 464.8 L1023.6 462.1 L1025.1 459.9 L1026.3 456.9 L1024.4 455.2 L1021.4 455.4 L1018.4 456.4 L1016.1 455.8 L1013.9 453.5 L1011.6 450.9 L1011.3 449 L1009 447.5 L1006.4 446.4 L1004.5 444.5 L1002.6 442.6 L1000 442.6"/>
<path d="M591.5 550 L591.5 548 L591.8 550.5 L594 551.5 L597.5 550 L594 552 L591 553.5 L589.5 555 L588 553 L587 555 L589 556 L588 558.5 L586.5 561 L585.5 564 L587 566.5 L590 565 L588 567.5 L585.5 567.5 L583 569.5 L580 571 L577.5 571.5 L580 572.5 L582 573.5 L579.5 575 L577 577.5 L574.5 580.5 L572 584 L570 587 L569.5 589 L571 590 L572.5 592 L574.5 591 L576 589.5 L578 588 L579.5 585.5 L580.5 583.5 L581.5 584.5 L580.5 587 L578.5 589 L576.5 591 L574 592 L572 592 L570 589 L567.5 591 L566 590 L564.5 587.5 L562.5 588 L564 589.5 L562.5 591.5 L560 592 L558.5 593 L561 594 L562 597 L564 600 L561.5 598 L559.5 596 L556.5 597 L554 598.5 L552.5 601 L554.5 602.5 L558 602 L560.5 601.5 L557.5 603.5 L555 603 L552 603 L549.5 604.5 L547 606 L551.5 606 L548 606.5 L545 607 L543 609 L542 611 L545 612.5 L548.5 613.5 L552 613.2 L549 614.2 L545 613.5 L541.5 612.2 L540.5 614.5 L542 617 L543.5 618.5 L541 619.5 L540.5 622.5 L544 622.5 L548 622.5 L550.5 621.5 L551.5 622.5 L553.5 621 L555.5 621.5 L556 619 L557 622 L554.5 623 L554 625 L552.5 623.5 L549 623.5 L545 623.8 L541.5 624 L542 628 L543.5 629.5 L545.5 628.5 L543.5 630.5 L541.5 632.5 L541.5 634.5 L543.5 635.5 L545 636.5 L547.5 635 L549.5 632.5 L551.5 631.5 L554 630.5 L551.5 632.5 L550.5 634.5 L548.5 635.5 L546.5 637.5 L544 638.5 L542.5 640 L545 640 L548.5 639.5 L546 641 L543.5 642.5 L544 645"/>
<path d="M583 560 L584 559.5 L584.5 560.5 L583.5 561Z"/>
<path d="M605.5 550 L607 548 L606 550.5 L604 552 L601 552.8 L601.2 556 L601.5 560 L600.8 564.5 L599.2 568.5 L597.5 571.5 L595 575.5 L597 577 L598.5 579.5 L598.2 582.5 L596.5 584 L593.5 583 L590 583.5 L587.5 586 L585.8 589.5 L584.5 594 L585.5 597 L585.5 601 L585.8 605 L586.8 609 L585.8 615 L588.5 617.5 L590.5 620 L589.5 623.5 L586.8 624.5 L588 628.5 L589 632 L588 636 L586 638 L584 639.5 L582.8 642.5 L583.5 645"/>
<path d="M650 557 L648 560 L646 562.5 L643.5 565 L644 567.5 L642 571.5 L643 575 L644 578 L642 581 L640 585.5 L636.5 588.5 L634 590.5 L630 592 L627 595 L624.5 597 L623.5 600.5 L621.5 600 L621 603.5 L618.5 605.5 L619.5 608.5 L618.5 613 L616.8 616 L617 621 L617.8 625 L618 628 L621 630 L623.5 632 L626 635 L628 637 L628.5 639.5 L626 642.5 L622 645"/>
<path d="M650 594 L646.5 595.5 L641.5 594.5 L644.5 597 L643 599.5 L641.5 603 L642.5 607 L642 611 L643.5 614.5 L644.5 618 L644 622 L643 626 L642.5 630 L644.5 631 L646.5 633 L650 635.5"/>
<path d="M631 634.5 L633 632 L635 633 L634 635.5Z"/>
<path d="M636.5 635.5 L638.5 636.5"/>
<path d="M643.5 635 L646 635.5"/>
<path d="M575.5 640 L576 645"/>
<path d="M544 645 L542 639 L542.5 643.5 L542.2 647.5 L544 646 L546.5 644 L550 642.5 L547.5 645 L547 647.5 L547.5 650 L549.5 649.8 L546 650 L544.5 651.5 L545 654 L547 656 L550 658 L551.5 659.5 L554.5 660.5 L558 660.2 L561 659 L564 656.5 L566.5 653.5 L568.5 651 L570 648.5 L571 649 L573 648 L574.5 645.5 L575.5 640.5 L576.2 640.5 L576.5 645 L578 647 L580 648 L581 650 L582.8 650 L583.5 647 L583 643 L584 640 L586 638 L588 635"/>
<path d="M579.5 648.5 L580 653 L581 657 L583 661.5 L584.8 666 L586.5 670 L588.5 674 L590.5 677 L590 679 L589 681 L588.5 683 L590 685 L590.5 688 L591.5 690 L595 690.5 L598.5 689.8 L599 688 L598.2 685.5 L600 683 L602.5 681.5 L606 681.5 L609 681.2 L610.5 679 L611.5 676 L612.5 672 L613 668 L613.5 664 L613.8 660 L614.2 656 L614.8 654 L611.5 653.5 L615 653.5 L618 651.5 L621 649.5 L624 648 L625 645.5 L622 644.8 L624.5 644 L626.5 641.5 L628.5 639 L627 637 L625 635"/>
<path d="M612 681 L614 675 L616.5 669 L615 674 L613 680Z"/>
<path d="M622.5 669.5 L622.5 666 L624.5 663.5 L627.5 662 L630 661.2 L628.5 663.5 L627.5 667 L626 669.5 L624 672.5 L623 673.5 L624 671Z"/>
<path d="M562 695 L564 694 L564.5 692 L563 690 L561 688.5 L560.5 685 L560.8 681 L560.2 677.5 L561.5 674 L563.5 671.5 L566.5 670.5 L569 670 L570.5 667.5 L572.5 665.5 L575.5 664.2 L576 666 L574.8 669 L574 673 L574 676.5 L575.5 678 L578 678 L578.5 679.5 L577 681 L574.5 681.5 L573.5 684.5 L572 687 L570.5 689.5 L569.5 692.5 L569 694.5"/>
<path d="M562 675 L563.5 673 L566.5 672 L567.8 673.5 L567.5 676 L565 677 L564 678.5 L562.5 677Z"/>
<path d="M577.6 669 L578.4 669.4"/>
<path d="M575.2 684.7 L576 685.3"/>
<path d="M572 690.5 L573.5 689 L576 689 L577.5 691 L577.8 693.5 L575.5 694.5 L573 693.5Z"/>
<path d="M578.5 687 L580.5 686 L582 684.5 L583.5 686.5 L584.5 684 L587 682.5 L588.5 683.5 L589 686 L587.5 688 L587 690.5 L588 692.5 L586 694 L584.5 692.5 L582.5 693 L580.5 692 L579.5 689.5Z"/>
<path d="M571.5 696 L574 696.2 L577 697 L580 698 L583 697.8 L585 696.5 L582 696 L579 695.5Z"/>
<path d="M562 695.5 L564.5 697.5 L565 700.5 L564.8 704 L565.5 706.5 L568.5 707 L570.5 710.2"/>
<path d="M564.5 706.5 L562.5 709.5 L563 711.5 L561 711 L560 709 L557.5 708.5 L555 709 L554.5 711.5 L551.5 709.5 L548.5 710.5 L545 711 L542.5 712.5 L540.5 715 L539.5 719 L537.5 724 L535.5 726.5 L534 728.5 L532.5 731 L530 732.5"/>
<path d="M540.5 715 L542 716.2 L544 714"/>
<path d="M541.5 718 L543 716.5 L545 718 L546.5 720.5 L544.5 723 L542 722Z"/>
<path d="M532.8 728.8 L535.5 730.8 L534.5 732.5 L531.5 733.2Z"/>
<path d="M554.5 711.5 L555 715 L554 718 L551.5 720 L553.5 722 L554 724 L552 726 L551 728 L548.5 728.5 L547.5 731 L548.5 733.5 L548 735"/>
<path d="M536 731 L540 731.5 L543 733 L546 734.5"/>
<path d="M564.5 695.5 L569.5 696.2"/>
<path d="M571 700 L574 701 L577 701.8 L579 700.5 L580 700 L578 703.5 L577.5 705 L581 705.8 L584 704 L586.5 702.5 L588.5 700.5 L591 701 L592.5 703 L595 705 L598 707 L600 708.5 L600 706.5 L605 704.5 L610 703 L612 701 L615 699 L618 697.5 L622 696.2 L624 696.5 L625 699 L626.5 701 L629 701.5 L632 700.5 L633.5 699 L634 697"/>
<path d="M591.5 699 L593.5 697.8 L595.2 699.5 L595.5 703 L593.5 702Z"/>
<path d="M634 700.2 L640 700.6 L650 701.5"/>
<path d="M599 707 L600 711 L599 714 L598 717 L600.5 720 L601.2 724 L600.8 728 L602.5 731 L603.5 735"/>
<path d="M601.5 692 L603 691.5 L604.5 693 L603.5 694.5 L601.8 694Z"/>
<path d="M650 664.5 L646.5 666 L644 668.5 L642.5 672.5 L641 675 L640.5 679 L640.8 683 L641.8 687 L640.5 691 L638.5 694 L637 695"/>
<path d="M641 683 L644 680.5 L647.5 679.2 L650 679"/>
<path d="M642 688 L643.5 691 L646 693 L650 694"/>
<path d="M464 610 L465.5 608.5 L467.5 607.5 L470 607 L470.8 608.5 L469.8 610 L469 609 L467.8 610 L468.5 611.5 L469.5 613 L469 614.5 L467.8 614 L467.2 612 L466.2 611 L465 611Z"/>
<path d="M465.5 609 L467.2 608.8 L468 610 L467 610.8"/>
<path d="M468.5 607.8 L469.8 608.2 L469.2 609.5"/>
<path d="M467.5 616.5 L469 619"/>
<path d="M500 633.5 L500.5 631 L502 629.5 L504 628 L505.7 626.5 L505.2 628.5 L504.2 630 L504.5 632 L503.5 634 L503 636.2 L502 635 L501.5 633 L502.2 631.5 L501.2 632Z"/>
<path d="M502.2 630.2 L503.8 629.5 L503.2 632.2 L502.4 634.2"/>
<path d="M502 638 L502.5 638.6"/>
<path d="M489.5 649.5 L490 647.5 L491.5 647.2 L492.5 648.5 L493.2 650 L492.2 651.5 L491 651 L490.3 651.8Z"/>
<path d="M490.5 648.5 L491.8 649 L491.5 650.5"/>
<path d="M491.5 645.5 L494 646.5 L495.5 645.5"/>
<path d="M479 654.5 L482 654.8 L486 654.2 L490 653.5 L491.5 654 L491 656.5 L489 658.5 L486.5 660.5 L485 663 L486 664.5 L484.5 666 L488 665 L492 664.5 L496 664.2 L498.5 664.5 L499.5 666.5 L498.5 669.5 L497 673 L495 676.5 L492.5 678.5 L490 679.5 L492.5 680 L494 680.8 L492 682 L490 683.5 L487 683 L490 683.8 L493.5 683 L496.5 684.2 L499 686.5 L500.5 689.5 L501.2 692.5 L501.8 695"/>
<path d="M479 654.5 L478 657 L479 658.5 L477 660 L478.5 662 L476 663 L475 665 L475.5 667 L474 669.5 L475.5 671 L474.5 674 L476 675.5 L478.5 675 L477 678 L476 681 L477.5 683 L479 681.5 L481 683 L480 685 L481.5 688.5 L480.5 691 L479 693.5 L478 695"/>
<path d="M466.5 659 L468.5 657 L470.5 655.5 L472 655.2 L471.5 658 L470 661 L468 663 L466.5 661.5Z"/>
<path d="M464 665.5 L465.5 664.5 L466 666.5Z"/>
<path d="M464 669 L465.2 668.8 L465 672 L463.5 673Z"/>
<path d="M468.5 667 L470.5 665 L472.5 665.5 L472 668 L473 670 L471 670.5 L469.5 669Z"/>
<path d="M471.5 676.5 L474 676 L474.5 679 L472.5 680Z"/>
<path d="M470 685.5 L472.5 683.5 L474.5 683 L474 685.5 L471.5 687.5Z"/>
<path d="M475.5 685 L477 686.5 L476.5 689.5 L475 689Z"/>
<path d="M458 695 L459.5 692.5 L462.5 691.8 L465 691 L466.5 692.5 L470 692 L473 693.5 L474 695"/>
<path d="M446.5 705.5 L448 703 L451 702.5 L454.5 702 L457.5 701 L459 699 L456.5 698.5 L457.5 696.5 L459 695 L458.5 693.5 L461 692.5 L464 692.8 L465 691.2 L466.5 692.5 L469.5 692.2 L472.5 692.5 L474 694.5 L474.5 696.5 L476 698 L476.2 700.5 L475 703 L473 704.5 L472 705.5 L472.5 709 L473 713 L473 716 L472 719 L471 722.5 L470.5 724 L467.5 723.8 L464.5 725 L462 726 L459.5 728 L457 729 L454 730 L451.5 730.8 L449.5 731.2 L448.5 729.5 L450.5 728 L447.5 728.5 L446 727 L448 725.5 L446 724.5 L447 723 L449.5 722.5 L450 720 L453 719.5 L455.5 719 L452.5 718.5 L451 717 L452 714.5 L454.5 714 L452.5 713 L449.5 712.5 L448 711 L450 709.5 L448.5 707.5 L449.5 706Z"/>
<path d="M463.5 695.5 L461 697 L462 698.5 L460.5 700 L462 702.5 L464.5 703.5 L466.5 701.5 L468 701 L469.5 703 L471.5 704.5 L472.5 705"/>
<path d="M496.5 685 L499 687.5 L501 691 L501.8 695 L503.5 697.5 L506 700 L508 703 L509.5 705.5 L509.8 708.5 L506.5 708.5 L510 709 L511.5 711.5 L512.2 714.5 L511.5 717 L514 716.2 L517.5 715.8 L520 717.5 L521.2 720.5 L520.5 724 L518.5 726.5 L516 728.5 L514 730.5 L513.5 731.5 L516 732 L519 733 L518 735 L515.5 736.5 L513 737.5 L510.5 738 L507 737.5 L504.5 738 L503 739.5 L501.5 738.5 L500 738.5 L498 739.5 L495 739 L492.5 738.5 L490 739.8 L488 741 L487 742.8 L484.5 742.2 L482 742.5 L479.5 744 L477 745.5 L475.5 745 L476 743.5 L479 741 L481 738 L483 735.5 L485 733.5 L488 733 L491 732 L493.5 730 L495.5 728.5 L492 731.5 L489.5 734 L491 731.5 L488.5 730.5 L486 730.5 L484 729 L481 728.5 L479 729 L478 727 L479.5 725 L482 724 L484.5 722 L485.5 719 L485 716 L483 715 L481.5 717 L483 714 L482 712 L484.5 712 L488 712.5 L491 712 L493 712.5 L492 710 L492.5 706.5 L492 703.5 L490 702.5 L489 700 L489.5 697 L488 696 L486 696.5 L483 697 L480 697 L478 696.5 L478 695 L479 693 L480.5 691 L481.5 689 L481 686.5 L480 685"/>
<path d="M470.5 686 L472.5 685 L473.5 687 L471.5 688Z"/>
<path d="M475 688 L476.5 685.5 L478.5 686.5 L478 689.5 L476 690Z"/>
<path d="M480.5 703.5 L482 701.5 L483.5 701.5 L482.8 703.5 L481.2 704.5Z"/>
<path d="M530 732.5 L526 735 L522.5 736.5 L520.8 738 L520.5 741 L520 744 L518 745.5 L515 746.5 L513 747.5 L511.5 749 L512 751 L511 752 L508 751.8 L505 751 L502.5 750.5 L502 748.5 L499 748.5 L498.8 750.5 L500.5 753 L501.2 756 L501.5 758.5 L498 759 L494 759.5 L492.5 757.5 L490 756.5 L487 757.2 L484 758 L481.5 759 L480.5 760.5 L482.5 761.5 L481.5 764 L483.5 765.5 L486 766.5 L489 767.5 L492 768.5 L494.5 769.5 L496.5 771 L499.5 771.5 L497.5 772.5 L497.5 775 L499.5 777.5 L502 779.5 L504 780.5 L503.5 782.5 L501.5 783.5"/>
<path d="M493.8 750.3 L494.4 750.8"/>
<path d="M496.4 752.7 L497.2 753.4"/>
<path d="M546 734.5 L547.5 737 L546.5 739 L549 741 L550 742.5"/>
<path d="M526 735.5 L527.5 737.5 L530 738.5 L531.5 740.5 L534 742 L536 744 L537.5 745.5 L540 745 L541 747 L543.5 748.5 L546 750 L550 751"/>
<path d="M531 730.5 L534.5 728.5 L536.5 731.5 L534 733.5 L531.5 732.5Z"/>
<path d="M532 730.8 L534.5 729.8 L535 732 L533 732.5Z"/>
<path d="M534.5 729 L536 726 L537.5 723 L538.5 720 L539 717 L540 714 L542 712 L545 710.8 L550 710"/>
<path d="M542 720 L543.5 718 L546 719.5 L546 722 L544 723.5 L542 722.5Z"/>
<path d="M548 735 L547 737 L548.5 739.5 L550 741"/>
<path d="M547.5 745 L546.5 747.5 L549.5 749 L550.5 751 L552 753 L556 754 L561 755.5 L559.5 759 L558 764 L557 768 L561 767.5 L565 766.5 L569 768 L571 770 L574 769.5 L578 768.5 L582 767.5 L586 767 L590 766.5 L591.5 768.5 L590.5 765 L589.5 762.5 L593 760.5 L595.5 759 L599 759"/>
<path d="M540 731.5 L543 732.5 L546 734.5 L547 737"/>
<path d="M540 745 L542 747 L544.5 749 L547 750.5 L550 750"/>
<path d="M557 768 L554 770 L552 773 L550 776 L548 779 L547.5 781 L549.5 779.5 L552 779 L553.5 782.5 L556.5 783.5 L559.5 781 L561.5 779 L563.5 781 L565.5 783.5 L567 780 L569 778.5 L572 779 L574.5 776.5 L573.5 774 L571 773 L570 770"/>
<path d="M571 770 L570 772 L572 774 L576 774 L581 773.5 L585.5 773 L587 775.5 L591 777 L594.5 778 L600 778.5 L604 777.5 L608 776.5 L611 775.5 L612 772 L612.5 769 L614 767 L616 765 L615.5 762 L615 758"/>
<path d="M585.5 743 L589 741 L593 739 L597 737 L600 736 L603 736.5 L606 738 L610 739.5 L612 740.5 L612.5 743 L614.5 744.5 L615.5 742 L618.5 742.5 L620 744 L623 745 L625 746 L627 749 L628.5 751 L630.5 750 L632.5 752 L633.5 753.5 L636 752 L640 751.5 L644 751 L647.5 752 L650 754"/>
<path d="M585.5 743 L586.5 745.5 L587.5 749 L590 752 L593.5 755.5 L596 757.5 L598.5 759 L601 758.5 L603 756 L606 756 L610 757 L615 757.5 L619 756.5 L622 755 L624 752 L627 750"/>
<path d="M603.5 735 L603 736.5"/>
<path d="M616 762 L619 765 L623 766 L626.5 764.5 L630 763.5 L633.5 762.5 L636 760.5 L638.5 759.5 L643 759 L647 760.5 L648.5 757 L650 755 L651 753.5"/>
<path d="M660 705 L656.5 706 L657.5 710 L658.5 714 L659.5 717 L656.5 720 L654 722.5 L656.5 724.5 L656 729 L657 733 L658.5 737 L660 741 L656.5 743.5 L653.5 746 L651.5 749 L650.5 753"/>
<path d="M650 701.5 L653 701.5 L655.5 703.5 L656.5 706"/>
<path d="M651 701 L651.5 698 L652.5 695.5"/>
<path d="M612 775.5 L614 778 L617 781 L620 783.5 L622 785"/>
<path d="M647.5 760.5 L651 763.5 L648.5 767 L646 771.5 L643.5 776 L641.5 779.5 L636 781 L630 782.5 L626 784 L623 785"/>
<path d="M651 763.5 L655 764.5 L660 765"/>
<path d="M594.5 778.5 L594 781 L594.5 785"/>
<path d="M608 785 L608.5 781 L611.5 778.5"/>
<path d="M635 781 L637 783 L638.5 785"/>
<path d="M657.5 550 L658 553 L659.5 556 L660 558"/>
<path d="M643.5 565 L644.5 563.5 L647.5 561 L648.5 558 L651 557 L653 558 L656 557.5 L660 558 L662.5 557.5 L664.5 560 L667.5 562.5 L667.2 566 L667 569.5 L664 569 L663 570 L666 571.5 L663.5 572.5 L661.5 575 L659.5 578.5 L657 582 L654 585.5 L650.5 589 L648.5 591.5 L648 594 L645 595 L641.5 594.5"/>
<path d="M650 635.5 L652 635 L655 637 L659 636.5 L663 635 L667 633.5 L671 632.5 L673 631 L674.5 629.5 L675.5 631 L678.5 630 L681 630.5 L682.5 630"/>
<path d="M694.5 550 L696 554 L697.2 558 L696.8 560 L694.5 561 L694 565 L694.5 567.5 L693.5 570 L694.5 572 L697 573 L696.5 577 L699 579.5 L699.8 582.5 L698.5 585.5 L696.5 588 L698.5 590.5 L701.5 593 L704 595.5 L706 599 L705 603 L702.5 607 L699.5 611 L696.5 615 L693.5 619 L690 622.5 L686.5 626 L682.5 630 L685 629 L687.5 629 L687 631.5 L689 633.5 L692 634.5 L694.5 634.5 L696.5 636.5 L697 638.5 L694 638 L691 637"/>
<path d="M659 645 L663 643 L668 641.8 L673 642.5 L678 643.5 L682 644 L684 645"/>
<path d="M684 644 L684.5 640.5 L687 639.5 L690 638.5"/>
<path d="M644 635 L646 634.5"/>
<path d="M652.8 638.8 L653.6 638.2"/>
<path d="M645 630 L647.5 632 L650 633 L649.5 635.5"/>
<path d="M645.5 631 L649 633"/>
<path d="M716 545 L717.5 548 L719 548.5 L717 550 L720 551 L723 553 L725.5 556 L726.2 558 L725.5 561 L723.5 564 L725 567 L726.5 571 L727 574.5 L726.5 576.5 L728 578.5 L731 579 L733.5 581 L735.5 583.5 L739 585 L742 586.5 L745 585.5 L746.5 583.5 L746 580.5 L744.5 578.5 L741.5 578.5 L739.5 576 L737.5 573.5 L736.5 571.5 L738.5 570.5 L738.5 568.5 L740 567 L742.5 568 L745 570 L748 571.5 L752 573.5 L756 576 L758 574 L760 572.5"/>
<path d="M723.5 546 L726 545.5 L729 548 L732 549.5 L736 550.5 L740 551 L744 553 L748 554 L753 553 L757 551.5 L760 550"/>
<path d="M730.5 568.5 L731.5 567.5 L732.5 568.5 L731.5 569.5Z"/>
<path d="M760 559 L757.5 560.5 L756.5 563.5 L758 566.5 L760 568.5"/>
<path d="M656 646.5 L659 644.5 L663 643 L668.5 641.5 L673 642.5 L678 643.5 L682 644.2 L684 644.5"/>
<path d="M656 646.5 L655.5 649 L656 652 L655 653.5 L656.5 655 L658.5 656.5 L660.5 657 L662.5 656.5 L662.5 659 L661.5 661.5 L661 664.5 L661.5 668 L661 670.5 L659 672.5 L656.5 673 L654.5 671.5 L653 668.5 L651 666 L649.5 664.5"/>
<path d="M691 638.5 L687.5 639.5 L684.5 640.5 L684 644.5 L683 648 L682.5 652.5 L683 656 L681.5 659 L681 662.5 L680 665.5 L682 668 L683.5 670 L682 673.5 L683.5 676 L685 679.5 L685.5 682 L688 683.5 L690.5 683.5 L692.5 685 L693 687.5 L695 686 L698 685.5 L700.5 687 L702.5 689 L701.5 692.5 L702.5 695 L701.5 697 L703.5 699 L705 703 L708 705 L709 707.5 L711.5 709 L713.5 712 L711.5 714.5 L709 715 L706.5 714 L704.5 715 L705.5 718 L706.5 722 L707 724.5"/>
<path d="M682.5 649 L679.5 649.5 L677.5 650.8 L679 654.5 L681 658.5 L682.5 661.5 L684.5 662.5 L685 661 L683 659"/>
<path d="M647.5 650 L649.5 648.5 L651.5 648 L653 650 L651.5 652 L650 651Z"/>
<path d="M646 656 L648.5 655 L651 654.5 L654 653.5 L655 654.5 L653 656.5 L651 658.5 L648.5 659 L647 661 L646 658.5Z"/>
<path d="M661.5 661.5 L664.5 660.5 L667.5 660.5 L670.5 662 L673 664.5 L674.5 666.5 L677.5 666 L680 665.5"/>
<path d="M650 679 L654 679.8 L658 680 L661.5 680.5 L664 679 L665.5 681 L668.5 682 L671 684 L673.5 686 L675 687.5 L677.5 686 L681 686 L683 683.5 L685.5 682"/>
<path d="M675 687.5 L674.5 690 L676 692 L674.5 693.5 L671.5 694.5 L670.5 696.5 L670 700 L669 703 L666.5 703.5 L664 705.5 L661.5 706.5 L658 706.5 L656 706"/>
<path d="M650 694 L652 695.5 L651 699 L651.5 701"/>
<path d="M657 729.5 L660 727.5 L664 726.5 L669 726.5 L674 727.5 L678 728.5 L682 731 L685.5 730.5 L688 731.5 L691 730 L692 732 L695.5 731.5 L698 731.5 L699.5 733.5 L700 730 L701 727.5 L703 725.5 L707 724.5 L709 725 L711 723.5 L713 723 L716 722.8 L719.5 722.5 L721 724 L722.5 726.5 L723.5 728.5 L722.5 730.5 L723 733 L726 734 L728.5 734.5"/>
<path d="M728.5 734.5 L730 738.1 L731.2 741.2 L735 741.9 L738.8 741.9 L742.5 741.2 L744.4 744.4 L747.5 745.6 L751.9 746.9 L755.6 748.5 L758.8 750 L759.4 752.5 L757.5 754.4 L757.2 758.8 L757.8 762.5 L756.9 765.6 L752.5 766 L749.4 767.5 L747.5 770 L747.5 771.2 L743.8 773.1 L738.8 775 L733.8 776.9 L730 778.8 L727.5 780.6 L726.9 783.8"/>
<path d="M747.5 771.2 L751.2 771.9 L753.8 771.9 L750.6 772.5 L748.8 775 L746.2 776.2 L748.1 778.1 L746.2 780.6 L747.5 782.5 L745.6 783.8"/>
<path d="M656.9 729.4 L657.5 733.8 L659.4 738.1 L658.8 741.2 L655.6 743.8 L652.5 746.9 L651.2 750.6 L650.6 753.8 L651.9 755 L648.8 757.5 L647.5 760.6 L650 763.1 L654.4 764.4 L658.8 765 L662.5 765.6 L665 766.9 L668.8 765.6 L673.1 764.4 L675.6 761.9 L677.5 760.6 L681.2 759.4 L684.4 761.2 L688.1 763.1 L690.6 765 L691.2 768.8 L693.1 770.6 L694.4 773.8 L696.2 776.2 L696.9 778.8 L693.8 778.8 L690.6 778.1 L689.4 780.6 L688.1 783.8"/>
<path d="M676.2 761.9 L678.8 766.2 L681.9 771.2 L683.8 775 L684.8 779.4 L685 783.8"/>
<path d="M697.5 783.8 L700 780 L701.9 776.9 L705.6 776.2 L707.5 775 L708.1 771.9 L707.5 776.2 L711.9 777.5 L708.1 778.1 L706.2 779.4 L708.1 780.6 L712.5 781.2 L717.5 781.2 L718.8 783.8"/>
<path d="M760 568.5 L759.4 569.4 L760.6 572.8 L758.1 574"/>
<path d="M760 559 L760.6 558.1 L763.1 555.2 L766.9 553.8 L770 550"/>
<path d="M781 550 L781.2 552.5 L783.1 554.4 L784 550"/>
<path d="M774 542.8 L774.8 543.5"/>
<path d="M810 784.4 L813.1 781.9 L815 779.4 L812.5 777.5 L810.6 776.2 L813.1 775 L812.5 771.9 L810.6 768.8 L808.1 766.2 L803.8 765.6 L801.9 762.5 L799.4 759.4 L800 755.6 L801.9 753.1 L800.6 750 L801.9 746.9 L803.8 743.1 L805.6 741.2 L808.1 743.8 L810.6 746.9 L813.1 745.6 L811.9 740 L815.6 736.9 L820 733.8 L823.1 730.6 L825.6 728.5 L829.4 730.6 L833.8 728.8 L836.9 730 L841.2 730.6 L845 733.8 L848.1 736.9 L848.5 740 L850 736.9 L853.1 738.8 L855.6 740 L858.8 736.9 L862.5 735 L866.2 736.2 L869.4 734.4 L873.1 735.6 L876.2 738.8 L880 740.6 L881.9 738.1 L886.2 738.8 L890 737.5 L892.5 734.4 L891.9 731.2 L888.8 729.4 L885.6 728.1 L883.1 726.2 L885.6 723.8 L888.1 721.9 L887.5 718.1 L890 715 L895 715.6 L892.5 713.8 L890 712.5 L890.6 710 L888.8 708.8 L890 705 L895 705 L901.2 703.8 L907.5 701.9 L913.8 701.2 L916.2 698.8 L922.5 697.5 L930 695.6"/>
<path d="M812.5 783.8 L816.2 778.8 L820 776.9 L823.8 774.4 L827.5 772.2 L831.2 773.5 L833.8 775 L836.2 773.1 L839.4 774.4 L840 778.8 L839.4 784.4"/>
<path d="M874.4 783.8 L877.5 782.5 L880 783.1 L880 780 L882.5 779.4 L884.4 776.9 L886.2 776.2 L887.5 778.8 L890.6 779 L888.8 781.2 L886.2 783.1 L883.8 783.8"/>
<path d="M930 696 L934 692 L938.7 690.7 L943.3 692 L949.3 691.6 L950.7 695.3 L951.3 700 L950.7 703.3 L954.7 703.3 L958 702 L960 705.3 L963.3 704 L966.7 705.3 L965.3 710.7 L969.3 710 L971.3 710.7 L975.3 707.3 L980 704.7 L984 702.7 L986.7 700.7 L986 703.3 L984 704.7 L987.3 707.3 L992.7 712 L995.3 716.7 L999.3 724 L1003.3 731.3 L1006 737.3 L1008 734.7 L1010 732.9 L1012.7 733.3 L1014.7 736.7 L1018 738.3 L1022 738 L1026.7 735.6 L1029.3 736.7 L1032 740 L1034 743.3 L1037.3 744.9 L1038.7 748 L1043.3 749.3 L1046 750 L1048 747.3 L1048.7 750.7 L1051.3 753.7 L1054.7 754 L1056.7 751.3 L1062 750 L1066 748 L1068.7 744.7 L1074 742 L1078 740 L1080.7 738"/>
<path d="M1051.3 753.7 L1048.7 754.7 L1047.3 758 L1043.3 760 L1041.3 762.7 L1040.7 766.7 L1040.7 771.3 L1038.7 773.3 L1036 774.7 L1031.3 773.3 L1025.3 771.3 L1023.3 778 L1021.3 784"/>
<path d="M1054.7 754 L1056 758 L1059.3 761.3 L1062 764 L1066 765.3 L1069.3 766.7 L1072 771.3 L1074 775.3 L1074.3 780.7 L1073.3 784"/>
<path d="M964.5 525 L963.5 527.5 L960.5 530 L958.5 534 L956 538.5 L953.5 540 L952.5 540.5 L954 542 L954 544 L951.5 545 L949.5 546.8 L947.5 546.5 L946.5 544.5 L948.5 543.5 L946 544 L944 542 L942 542.5 L940.5 542 L941 545 L943 547.5 L944.5 546 L943 543.5"/>
<path d="M973.5 525 L974.5 525.5 L973.5 528 L970 532 L968.5 535.5 L968 539 L966 542 L962.5 544 L959.5 546 L958.5 549.5 L956.5 551.5 L954 549.8 L950 549.5 L946 549.8 L944 548.5 L942 547 L940 547"/>
<path d="M989.8 525 L988.5 526.5 L990.5 528.5 L992.5 530.5 L996 530.5 L999.8 529.8 L996 528.5 L992 527 L991 525 L990.5 525"/>
<path d="M453.8 473.2 L456.5 470.8 L458.5 468.8 L460 466.8 L461.2 467 L461.2 469 L459.8 470.5 L457.8 471.2 L455 473.2Z"/>
<path d="M548.5 739.5 L548.2 742.5 L547.2 745 L546.5 747.5"/>
<path d="M543.8 748.8 L545.6 746 L547 745"/>
<path d="M940.5 542 L938.5 541.2 L937.8 543.5 L939 546 L940 547"/>
<path d="M800 541.8 L803 541.3 L805.4 540 L806.2 537.5 L806.7 535 L807.5 530 L810.8 528.3 L813.8 527.9 L812.9 525.4 L814.5 525"/>
</g>
<g stroke="#000" fill="none" stroke-linecap="butt">
<path d="M400 546H410.5M400.2 546L397 557M410.2 546L414 557" stroke-width="1.6"/>
<path d="M398 539L400.6 545.5M405.2 539V545.5M413 539L410.4 545.5" stroke-width="1.6"/>
<path d="M396.5 557.2H403M408 557.2H414.5" stroke-width="2.6"/>
</g>

</g>
<rect x="150.5" y="427.5" width="930" height="357" fill="none" stroke="#000" stroke-width="1.1"/>
<g font-size="19.1" text-anchor="middle">
<text x="262.5" y="418">40°W</text>
<text x="262.5" y="804">40°W</text>
<text x="386.5" y="418">20°W</text>
<text x="386.5" y="804">20°W</text>
<text x="510.5" y="418">0°</text>
<text x="510.5" y="804">0°</text>
<text x="634.5" y="418">20°E</text>
<text x="634.5" y="804">20°E</text>
<text x="758.5" y="418">40°E</text>
<text x="758.5" y="804">40°E</text>
<text x="882.5" y="418">60°E</text>
<text x="882.5" y="804">60°E</text>
<text x="1006.5" y="418">80°E</text>
<text x="1006.5" y="804">80°E</text>
</g>
<g font-size="19.1">
<text x="144.6" y="751.4" text-anchor="end">50°N</text>
<text x="1085.5" y="751.4">50°N</text>
<text x="144.6" y="700.4" text-anchor="end">55°N</text>
<text x="1085.5" y="700.4">55°N</text>
<text x="144.6" y="642.4" text-anchor="end">60°N</text>
<text x="1085.5" y="642.4">60°N</text>
<text x="144.6" y="575.4" text-anchor="end">65°N</text>
<text x="1085.5" y="575.4">65°N</text>
<text x="144.6" y="494.4" text-anchor="end">70°N</text>
<text x="1085.5" y="494.4">70°N</text>
</g>
<text x="60" y="975" font-size="13.9">© Met Office Crown Copyright</text>
</svg></body></html>
